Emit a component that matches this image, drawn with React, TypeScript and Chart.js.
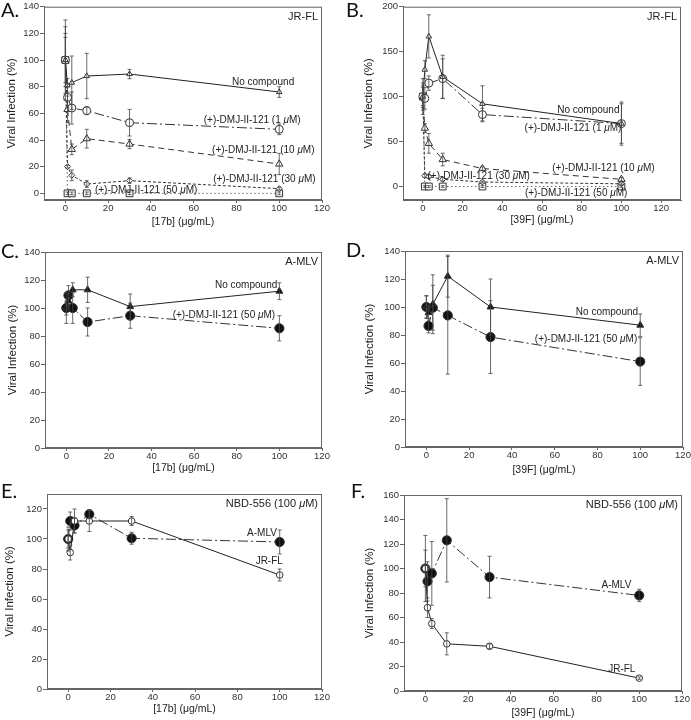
import React, { useEffect, useRef } from "react";
import { Chart, registerables } from "chart.js";
Chart.register(...registerables);

const FONT = "'Liberation Sans', Arial, Helvetica, sans-serif";
const LETTER_FONT = "Lato, 'Open Sans', sans-serif";

// shared doses (µg/mL)
const doses = [0, 1, 3, 10, 30, 100];

// tick labels
const xTickValues = [0, 20, 40, 60, 80, 100, 120];
const yTicks140 = [0, 20, 40, 60, 80, 100, 120, 140];
const yTicks200 = [0, 50, 100, 150, 200];
const yTicks120 = [0, 20, 40, 60, 80, 100, 120];
const yTicks160 = [0, 20, 40, 60, 80, 100, 120, 140, 160];

// ---------- Panel A : JR-FL vs 17b ----------
const aNoCompound = [100, 81, 83, 88, 89.5, 76];
const aNoCompoundErr = [30, 5, 20, 17, 3.5, 4];
const aDmj1 = [100, 72, 64, 62, 53, 48];
const aDmj1Err = [25, 8, 12, 3, 10, 4];
const aDmj10 = [100, 63, 33, 41, 37, 22];
const aDmj10Err = [20, 10, 4, 7, 3.5, 8];
const aDmj30 = [100, 20, 13.5, 7, 9.5, 3.5];
const aDmj30Err = [17, 1, 4, 2.5, 2, 1];
const aDmj50 = [100, 0, 0, 0, 0, 0];
const aDmj50Err = [0, 1, 1, 1, 1, 1];

// ---------- Panel B : JR-FL vs 39F ----------
const bNoCompound = [100, 130, 167, 122, 92, 70];
const bNoCompoundErr = [12, 10, 24, 24, 20, 24];
const bDmj1 = [100, 98, 115, 120, 80, 70];
const bDmj1Err = [20, 12, 8, 22, 7, 22];
const bDmj10 = [100, 65, 48, 30, 20, 8];
const bDmj10Err = [15, 5, 11, 7, 2, 2];
const bDmj30 = [100, 12, 11, 8, 5, 3];
const bDmj30Err = [10, 2, 2, 2, 1, 1];
const bDmj50 = [100, 0, 0, 0, 0, 0];
const bDmj50Err = [0, 1, 1, 1, 1, 1];

// ---------- Panel C : A-MLV vs 17b ----------
const cNoCompound = [100, 105, 113, 113, 101, 112];
const cNoCompoundErr = [5, 5, 5, 9, 9, 6];
const cDmj50 = [100, 109, 100, 90, 94.5, 85.5];
const cDmj50Err = [11, 7, 11, 10, 9, 9];

// ---------- Panel D : A-MLV vs 39F ----------
const dNoCompound = [100, 96, 102, 122, 100, 87];
const dNoCompoundErr = [8, 4, 21, 15, 20, 8];
const dDmj50 = [100, 86.5, 99.5, 94, 78.5, 61];
const dDmj50Err = [8, 5, 16, 42, 26, 17];

// ---------- Panel E : NBD-556 vs 17b ----------
const eAmlv = [100, 112, 109, 116.5, 100.5, 98];
const eAmlvErr = [6, 6, 5, 3, 4, 8];
const eJrfl = [100, 91, 112, 112, 112, 76];
const eJrflErr = [8, 5, 8, 7, 3, 4];

// ---------- Panel F : NBD-556 vs 39F ----------
const fAmlv = [100, 89.5, 96, 123, 93, 78];
const fAmlvErr = [27, 16, 26, 34, 17, 5];
const fJrfl = [100, 68, 55, 38.5, 36.5, 10.5];
const fJrflErr = [15, 8, 4, 9, 2, 1];

const yTitle = "Viral Infection (%)";

type StyleKey =
  | "triSmall" | "circOpenDD" | "triOpenDash" | "diamondShort" | "squareDot"
  | "triFilled" | "circFilledDD" | "circOpenSolid";

const STYLES: Record<StyleKey, any> = {
  triSmall: { pointStyle: "triangle", r: 3.2, bg: "#fff", dash: [], line: "#222" },
  circOpenDD: { pointStyle: "circle", r: 4, bg: "#fff", dash: [10, 3, 2, 3], line: "#333" },
  triOpenDash: { pointStyle: "triangle", r: 4.2, bg: "#fff", dash: [6, 4], line: "#333" },
  diamondShort: { pointStyle: "rectRot", r: 3, bg: "#fff", dash: [3, 2], line: "#333" },
  squareDot: { pointStyle: "rect", r: 4.8, bg: "#fff", dash: [1.5, 2.5], line: "#666" },
  triFilled: { pointStyle: "triangle", r: 4, bg: "#111", dash: [], line: "#222" },
  circFilledDD: { pointStyle: "circle", r: 4.6, bg: "#111", dash: [10, 3, 2, 3], line: "#333" },
  circOpenSolid: { pointStyle: "circle", r: 3.3, bg: "#fff", dash: [], line: "#222" },
};

type Series = { name: string; y: number[]; err: number[]; style: StyleKey };
type Note = { text: string; x: number; y: number; align: "left" | "right" | "center" };

type Panel = {
  letter: string; left: number; top: number; w: number; h: number;
  area: { l: number; r: number; t: number; b: number };
  yMin: number; yMax: number; yTicks: number[]; xMax: number;
  xTitle: string; yTitleX: number; xTitleY: number; corner: string;
  letterX: number; letterY: number;
  series: Series[]; notes: Note[];
};

const panels: Panel[] = [
  {
    letter: "A.", left: 0, top: 0, w: 345, h: 240,
    area: { l: 44, r: 322, t: 5, b: 200 },
    yMin: -5, yMax: 140, yTicks: yTicks140, xMax: 120,
    xTitle: "[17b] (μg/mL)", yTitleX: 12, xTitleY: 222, corner: "JR-FL",
    letterX: 1, letterY: 17,
    series: [
      { name: "No compound", y: aNoCompound, err: aNoCompoundErr, style: "triSmall" },
      { name: "(+)-DMJ-II-121 (1 μM)", y: aDmj1, err: aDmj1Err, style: "circOpenDD" },
      { name: "(+)-DMJ-II-121 (10 μM)", y: aDmj10, err: aDmj10Err, style: "triOpenDash" },
      { name: "(+)-DMJ-II-121 (30 μM)", y: aDmj30, err: aDmj30Err, style: "diamondShort" },
      { name: "(+)-DMJ-II-121 (50 μM)", y: aDmj50, err: aDmj50Err, style: "squareDot" },
    ],
    notes: [
      { text: "No compound", x: 107, y: 83, align: "right" },
      { text: "(+)-DMJ-II-121 (1 μM)", x: 110, y: 55, align: "right" },
      { text: "(+)-DMJ-II-121 (10 μM)", x: 116.5, y: 32.5, align: "right" },
      { text: "(+)-DMJ-II-121 (30 μM)", x: 117, y: 10.5, align: "right" },
      { text: "(+)-DMJ-II-121 (50 μM)", x: 61.7, y: 2, align: "right" },
    ],
  },
  {
    letter: "B.", left: 345, top: 0, w: 346, h: 240,
    area: { l: 58, r: 336, t: 5, b: 200 },
    yMin: -15, yMax: 200, yTicks: yTicks200, xMax: 130,
    xTitle: "[39F] (μg/mL)", yTitleX: 24, xTitleY: 220, corner: "JR-FL",
    letterX: 1, letterY: 17,
    series: [
      { name: "No compound", y: bNoCompound, err: bNoCompoundErr, style: "triSmall" },
      { name: "(+)-DMJ-II-121 (1 μM)", y: bDmj1, err: bDmj1Err, style: "circOpenDD" },
      { name: "(+)-DMJ-II-121 (10 μM)", y: bDmj10, err: bDmj10Err, style: "triOpenDash" },
      { name: "(+)-DMJ-II-121 (30 μM)", y: bDmj30, err: bDmj30Err, style: "diamondShort" },
      { name: "(+)-DMJ-II-121 (50 μM)", y: bDmj50, err: bDmj50Err, style: "squareDot" },
    ],
    notes: [
      { text: "No compound", x: 99, y: 84.7, align: "right" },
      { text: "(+)-DMJ-II-121 (1 μM)", x: 100, y: 64.5, align: "right" },
      { text: "(+)-DMJ-II-121 (10 μM)", x: 116.7, y: 20.3, align: "right" },
      { text: "(+)-DMJ-II-121 (30 μM)", x: 53.9, y: 11, align: "right" },
      { text: "(+)-DMJ-II-121 (50 μM)", x: 103, y: -8, align: "right" },
    ],
  },
  {
    letter: "C.", left: 0, top: 240, w: 345, h: 240,
    area: { l: 45, r: 322, t: 12, b: 208 },
    yMin: 0, yMax: 140, yTicks: yTicks140, xMax: 120,
    xTitle: "[17b] (μg/mL)", yTitleX: 12.5, xTitleY: 228, corner: "A-MLV",
    letterX: 1, letterY: 18,
    series: [
      { name: "No compound", y: cNoCompound, err: cNoCompoundErr, style: "triFilled" },
      { name: "(+)-DMJ-II-121 (50 μM)", y: cDmj50, err: cDmj50Err, style: "circFilledDD" },
    ],
    notes: [
      { text: "No compound", x: 99, y: 116, align: "right" },
      { text: "(+)-DMJ-II-121 (50 μM)", x: 98, y: 94.5, align: "right" },
    ],
  },
  {
    letter: "D.", left: 345, top: 240, w: 346, h: 240,
    area: { l: 60, r: 338, t: 11, b: 207 },
    yMin: 0, yMax: 140, yTicks: yTicks140, xMax: 120,
    xTitle: "[39F] (μg/mL)", yTitleX: 25, xTitleY: 230, corner: "A-MLV",
    letterX: 1, letterY: 17,
    series: [
      { name: "No compound", y: dNoCompound, err: dNoCompoundErr, style: "triFilled" },
      { name: "(+)-DMJ-II-121 (50 μM)", y: dDmj50, err: dDmj50Err, style: "circFilledDD" },
    ],
    notes: [
      { text: "No compound", x: 99, y: 96, align: "right" },
      { text: "(+)-DMJ-II-121 (50 μM)", x: 98.6, y: 77, align: "right" },
    ],
  },
  {
    letter: "E.", left: 0, top: 480, w: 345, h: 240,
    area: { l: 47, r: 322, t: 14, b: 209 },
    yMin: 0, yMax: 130, yTicks: yTicks120, xMax: 120,
    xTitle: "[17b] (μg/mL)", yTitleX: 10, xTitleY: 229, corner: "NBD-556 (100 μM)",
    letterX: 1, letterY: 18,
    series: [
      { name: "JR-FL", y: eJrfl, err: eJrflErr, style: "circOpenSolid" },
      { name: "A-MLV", y: eAmlv, err: eAmlvErr, style: "circFilledDD" },
    ],
    notes: [
      { text: "A-MLV", x: 98.7, y: 104, align: "right" },
      { text: "JR-FL", x: 101.5, y: 85, align: "right" },
    ],
  },
  {
    letter: "F.", left: 345, top: 480, w: 346, h: 240,
    area: { l: 59, r: 337, t: 15, b: 211 },
    yMin: 0, yMax: 160, yTicks: yTicks160, xMax: 120,
    xTitle: "[39F] (μg/mL)", yTitleX: 25, xTitleY: 233, corner: "NBD-556 (100 μM)",
    letterX: 6, letterY: 18,
    series: [
      { name: "JR-FL", y: fJrfl, err: fJrflErr, style: "circOpenSolid" },
      { name: "A-MLV", y: fAmlv, err: fAmlvErr, style: "circFilledDD" },
    ],
    notes: [
      { text: "A-MLV", x: 96.3, y: 86.5, align: "right" },
      { text: "JR-FL", x: 98.2, y: 17.7, align: "right" },
    ],
  },
];

function drawRich(ctx: CanvasRenderingContext2D, text: string, x: number, y: number, align: string, size: number, color: string) {
  const parts = text.split("μ");
  const segs: { t: string; f: string; w: number }[] = [];
  parts.forEach((p, i) => {
    if (i > 0) segs.push({ t: "μ", f: `italic ${size}px ${FONT}`, w: 0 });
    if (p) segs.push({ t: p, f: `${size}px ${FONT}`, w: 0 });
  });
  let total = 0;
  segs.forEach((s) => { ctx.font = s.f; s.w = ctx.measureText(s.t).width; total += s.w; });
  let cx = align === "right" ? x - total : align === "center" ? x - total / 2 : x;
  ctx.textAlign = "left";
  ctx.textBaseline = "middle";
  ctx.fillStyle = color;
  segs.forEach((s) => { ctx.font = s.f; ctx.fillText(s.t, cx, y); cx += s.w; });
}

function PanelChart({ p }: { p: Panel }) {
  const ref = useRef<HTMLCanvasElement | null>(null);
  useEffect(() => {
    const canvas = ref.current!;
    const yTitleFont = 11.5;
    const xTitleFont = 10.5;
    const datasets = p.series.map((s) => {
      const st = STYLES[s.style];
      return {
        label: s.name,
        data: doses.map((d, i) => ({ x: d, y: s.y[i] })),
        errs: s.err,
        showLine: true,
        borderColor: st.line,
        borderWidth: 1,
        borderDash: st.dash,
        pointStyle: st.pointStyle,
        pointRadius: st.r,
        pointBackgroundColor: st.bg,
        pointBorderColor: "#333",
        pointBorderWidth: 1,
        fill: false,
        tension: 0,
        clip: false,
      };
    });

    const deco = {
      id: "deco" + p.letter,
      afterDatasetsDraw(chart: any) {
        const ctx = chart.ctx as CanvasRenderingContext2D;
        const ys = chart.scales.y;
        ctx.save();
        ctx.strokeStyle = "#444";
        ctx.lineWidth = 0.8;
        chart.data.datasets.forEach((ds: any, di: number) => {
          const meta = chart.getDatasetMeta(di);
          meta.data.forEach((pt: any, i: number) => {
            const e = ds.errs[i];
            if (!e) return;
            const v = ds.data[i].y;
            const y1 = ys.getPixelForValue(v + e);
            const y2 = ys.getPixelForValue(v - e);
            const x = pt.x;
            ctx.beginPath();
            ctx.moveTo(x, y1); ctx.lineTo(x, y2);
            ctx.moveTo(x - 2, y1); ctx.lineTo(x + 2, y1);
            ctx.moveTo(x - 2, y2); ctx.lineTo(x + 2, y2);
            ctx.stroke();
          });
        });
        ctx.restore();
      },
      afterDraw(chart: any) {
        const ctx = chart.ctx as CanvasRenderingContext2D;
        const a = chart.chartArea;
        const xs = chart.scales.x;
        const ys = chart.scales.y;
        ctx.save();
        ctx.strokeStyle = "#666";
        ctx.lineWidth = 1;
        ctx.strokeRect(a.left + 0.5, a.top + 0.5, a.right - a.left - 1, a.bottom - a.top - 1);
        drawRich(ctx, p.corner, a.right - 4, a.top + 10, "right", 11, "#222");
        p.notes.forEach((n) => {
          drawRich(ctx, n.text, xs.getPixelForValue(n.x), ys.getPixelForValue(n.y), n.align, 10, "#222");
        });
        ctx.font = `20px ${LETTER_FONT}`;
        ctx.fillStyle = "#111";
        ctx.textAlign = "left";
        ctx.textBaseline = "alphabetic";
        ctx.fillText(p.letter, p.letterX, p.letterY);
        ctx.restore();
      },
    };

    const xTitlePadBottom = Math.max(0, p.h - p.xTitleY - (xTitleFont * 1.2) / 2);
    const yTitlePadTop = Math.max(0, p.yTitleX - (yTitleFont * 1.2) / 2);

    const chart = new Chart(canvas, {
      type: "scatter",
      data: { datasets: datasets as any },
      options: {
        animation: false,
        responsive: false,
        maintainAspectRatio: false,
        layout: { padding: { left: 0, top: p.area.t, right: p.w - p.area.r, bottom: 0 } },
        plugins: { legend: { display: false }, tooltip: { enabled: false } },
        scales: {
          x: {
            type: "linear",
            min: -10,
            max: p.xMax,
            afterFit: (s: any) => { s.height = p.h - p.area.b; },
            afterBuildTicks: (s: any) => { s.ticks = xTickValues.map((v) => ({ value: v })); },
            ticks: {
              autoSkip: false, maxRotation: 0,
              color: "#333", font: { family: FONT, size: 9.5 }, padding: 0,
            },
            grid: { display: true, drawOnChartArea: false, drawTicks: true, tickLength: 3, color: "#666" },
            border: { display: true, color: "#666" },
            title: {
              display: true, text: p.xTitle, color: "#222",
              font: { family: FONT, size: xTitleFont },
              padding: { top: 0, bottom: xTitlePadBottom },
            },
          },
          y: {
            type: "linear",
            min: p.yMin,
            max: p.yMax,
            afterFit: (s: any) => { s.width = p.area.l; },
            afterBuildTicks: (s: any) => { s.ticks = p.yTicks.map((v) => ({ value: v })); },
            ticks: {
              autoSkip: false,
              color: "#333", font: { family: FONT, size: 9.5 }, padding: 1,
            },
            grid: { display: true, drawOnChartArea: false, drawTicks: true, tickLength: 4, color: "#666" },
            border: { display: true, color: "#666" },
            title: {
              display: true, text: yTitle, color: "#222",
              font: { family: FONT, size: yTitleFont },
              padding: { top: yTitlePadTop, bottom: 0 },
            },
          },
        },
      } as any,
      plugins: [deco],
    });
    return () => chart.destroy();
  }, [p]);

  return (
    <canvas
      ref={ref}
      width={p.w}
      height={p.h}
      style={{ position: "absolute", left: p.left, top: p.top, width: p.w, height: p.h }}
    />
  );
}

export default function App() {
  return (
    <div style={{ position: "absolute", left: 0, top: 0, width: 691, height: 720, background: "#fff" }}>
      {panels.map((p) => (
        <PanelChart key={p.letter} p={p} />
      ))}
    </div>
  );
}
